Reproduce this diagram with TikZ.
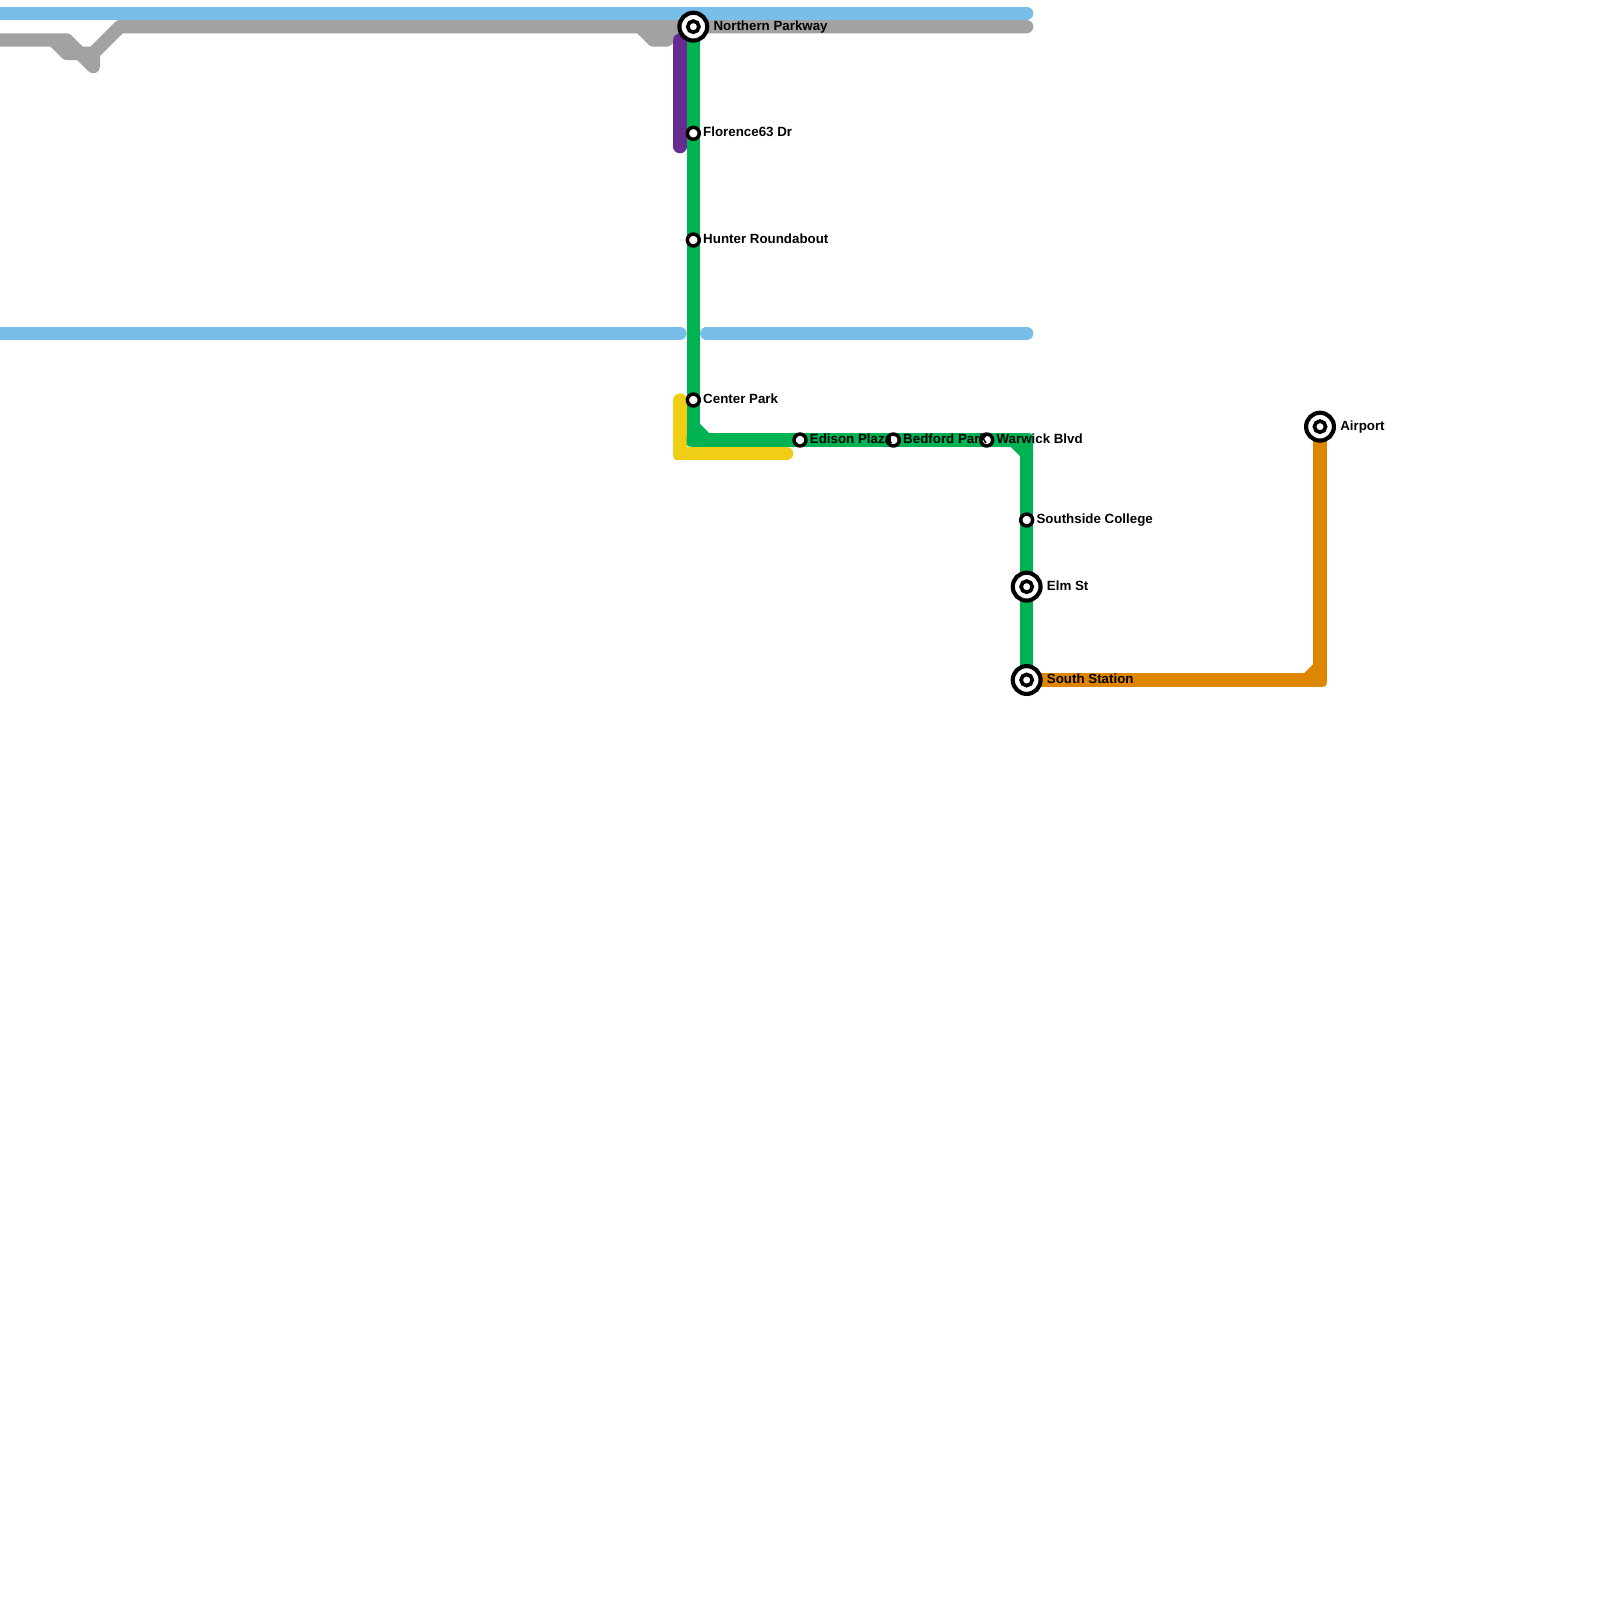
\documentclass[tikz,border=0pt]{standalone}
\usepackage{fontspec}
\setmainfont{Liberation Sans}
\usetikzlibrary{positioning,backgrounds}

\definecolor{skyline}{HTML}{79BDE9}
\definecolor{silverline}{HTML}{A2A2A2}
\definecolor{purpleline}{HTML}{662C90}
\definecolor{greenline}{HTML}{00B251}
\definecolor{yellowline}{HTML}{F0CE15}
\definecolor{orangeline}{HTML}{DF8600}

\tikzset{
  route/.style={line width=0.4cm, line cap=round, line join=round},
  elbow/.style={rectangle, rounded corners=0.09cm, minimum size=0.4cm, inner sep=0pt},
  stop/.style={circle, draw=black, fill=white, line width=0.105cm, minimum size=0.357cm, inner sep=0pt},
  bigstop/.style={circle, draw=black, fill=white, line width=0.125cm, minimum size=0.835cm, inner sep=0pt},
  centerstop/.style={circle, draw=black, fill=white, line width=0.11cm, minimum size=0.335cm, inner sep=0pt},
  stoplabel/.style={font=\bfseries\fontsize{11.38pt}{12pt}\selectfont, inner sep=0pt, text height=8.2pt, text depth=2.4pt}
}

\begin{document}
\begin{tikzpicture}[x=0.4cm, y=-0.4cm]
  \useasboundingbox (0,0) rectangle (120,120);

  % Grandes estaciones
  \node[bigstop] (nor) at (52,2) {};
  \node[bigstop] (elm) at (77,44) {};
  \node[bigstop] (sou) at (77,51) {};
  \node[bigstop] (air) at (99,32) {};
  \foreach \n/\p in {norc/{52,2}, elmc/{77,44}, souc/{77,51}, airc/{99,32}}
    \node[centerstop] (\n) at (\p) {};

  % Estaciones
  \foreach \n/\p in {flo/{52,10}, hun/{52,18}, cen/{52,30}, edi/{60,33}, bed/{67,33},
                     war/{74,33}, sth/{77,39}}
    \node[stop] (\n) at (\p) {};

  % Etiquetas
  \node[stoplabel, right=0.12cm of nor] (norl) {Northern Parkway};
  \node[stoplabel, right=0.059cm of flo] (flol) {Florence63 Dr};
  \node[stoplabel, right=0.059cm of hun] (hunl) {Hunter Roundabout};
  \node[stoplabel, right=0.059cm of cen] (cenl) {Center Park};
  \node[stoplabel, right=0.059cm of edi] (edil) {Edison Plaza};
  \node[stoplabel, right=0.059cm of bed] (bedl) {Bedford Park};
  \node[stoplabel, right=0.059cm of war] (warl) {Warwick Blvd};
  \node[stoplabel, right=0.059cm of sth] (sthl) {Southside College};
  \node[stoplabel, right=0.12cm of elm] (elml) {Elm St};
  \node[stoplabel, right=0.12cm of sou] (soul) {South Station};
  \node[stoplabel, right=0.12cm of air] (airl) {Airport};

  % Puntos de las lineas
  \coordinate (skyA) at (-1,1);
  \coordinate (skyB) at (77,1);
  \coordinate (skyC) at (-1,25);
  \coordinate (skyD) at (51,25);
  \coordinate (skyE) at (53,25);
  \coordinate (skyF) at (77,25);
  \coordinate (silA) at (-1,3);
  \coordinate (silB) at (4,3);
  \coordinate (silC) at (5,3);
  \coordinate (silD) at (5,4);
  \coordinate (silE) at (6,4);
  \coordinate (silF) at (7,4);
  \coordinate (silG) at (7,5);
  \coordinate (silH) at (9,2);
  \coordinate (silI) at (77,2);
  \coordinate (silJ) at (48,2);
  \coordinate (silK) at (49,3);
  \coordinate (silL) at (50,3);
  \coordinate (silM) at (51,2);
  \coordinate (purA) at (51,3);
  \coordinate (purB) at (51,11);
  \coordinate (yelA) at (51,30);
  \coordinate (yelB) at (51,34);
  \coordinate (yelC) at (59,34);
  \coordinate (greA) at (52,33);
  \coordinate (greB) at (52,32);
  \coordinate (greC) at (53,33);
  \coordinate (greD) at (77,33);
  \coordinate (greE) at (76,33);
  \coordinate (greF) at (77,34);
  \coordinate (oraA) at (99,51);
  \coordinate (oraB) at (98,51);
  \coordinate (oraC) at (99,50);

  \begin{scope}[on background layer]
    \fill[white] (0,0) rectangle (120,120);

    % Azul
    \draw[route, skyline] (skyA) -- (skyB);
    \draw[route, skyline] (skyC) -- (skyD);
    \draw[route, skyline] (skyE) -- (skyF);

    % Gris
    \draw[route, silverline] (silA) -- (silC) -- (silE) -- (silF) -- (silH) -- (silI)
      (silB) -- (silD) -- (silE) -- (silG) -- (silF)
      (silJ) -- (silK) -- (silL) -- (silM) -- cycle;

    % Morado y amarillo
    \draw[route, purpleline] (purA) -- (purB);
    \draw[route, yellowline] (yelA) -- (yelB) -- (yelC);
    \node[elbow, fill=yellowline] (yelK) at (yelB) {};

    % Verde
    \draw[route, greenline] (nor.center) -- (greA) -- (greD) -- (sou.center);
    \draw[route, greenline] (greB) -- (greC);
    \draw[route, greenline] (greE) -- (greF);
    \node[elbow, fill=greenline] (greK) at (greA) {};
    \node[elbow, fill=greenline] (greL) at (greD) {};

    % Naranja
    \draw[route, orangeline] (sou.center) -- (oraA) -- (air.center);
    \draw[route, orangeline] (oraB) -- (oraC);
    \node[elbow, fill=orangeline] (oraK) at (oraA) {};
  \end{scope}
\end{tikzpicture}
\end{document}
